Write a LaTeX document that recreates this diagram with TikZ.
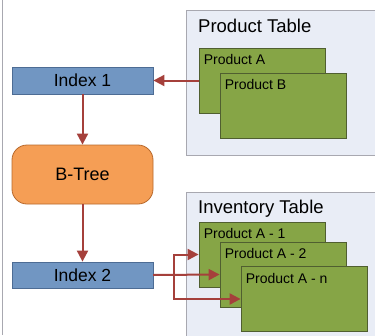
\documentclass[tikz,border=0pt]{standalone}
\usepackage{fontspec}
\setmainfont{Liberation Sans}
\usetikzlibrary{arrows.meta,calc}
\definecolor{idxblue}{HTML}{7196C2}
\definecolor{idxborder}{HTML}{4D6C94}
\definecolor{treeorange}{HTML}{F59E55}
\definecolor{treeborder}{HTML}{B8692C}
\definecolor{recgreen}{HTML}{86A546}
\definecolor{recborder}{HTML}{505F30}
\definecolor{tablefill}{HTML}{E9EDF6}
\definecolor{tableborder}{HTML}{A8A8B0}
\definecolor{arrowred}{HTML}{A5403B}
\begin{document}
\begin{tikzpicture}[x=1pt,y=-1pt,
  idxbox/.style={draw=idxborder,fill=idxblue,line width=0.8pt,minimum width=141pt,minimum height=27pt,inner sep=0pt,font=\fontsize{17.5}{20}\selectfont},
  treebox/.style={draw=treeborder,fill=treeorange,line width=0.8pt,rounded corners=15pt,minimum width=141pt,minimum height=59pt,inner sep=0pt,font=\fontsize{18}{20}\selectfont},
  recbox/.style={draw=recborder,fill=recgreen,line width=0.8pt,minimum width=126pt,minimum height=65pt,inner sep=0pt},
  tablebox/.style={draw=tableborder,fill=tablefill,line width=0.8pt},
  rectext/.style={anchor=base west,inner sep=0pt,font=\fontsize{14}{16}\selectfont},
  tabletext/.style={anchor=base west,inner sep=0pt,font=\fontsize{18.5}{20}\selectfont},
  link/.style={draw=arrowred,line width=2pt,-{Triangle[length=11pt,width=11pt]}}
]
\useasboundingbox (0,0) rectangle (375,335);
\fill[white] (0,0) rectangle (375,335);
\draw[tableborder,line width=0.8pt] (2,0) -- (2,335);
% tables
\draw[tablebox] (186,10) rectangle (380,155);
\draw[tablebox] (186,192) rectangle (380,340);
\node[tabletext] (pt) at (198,32) {Product Table};
\node[tabletext] (it) at (198,213) {Inventory Table};
% records
\node[recbox] (pa) at (262,80.5) {};
\node[rectext] (pat) at ($(pa.north west)+(5,17)$) {Product A};
\node[recbox] (pb) at (283,105.5) {};
\node[rectext] (pbt) at ($(pb.north west)+(5,17)$) {Product B};
\node[recbox] (a1) at (262,254.5) {};
\node[rectext] (a1t) at ($(a1.north west)+(5,17)$) {Product A - 1};
\node[recbox] (a2) at (283,274.5) {};
\node[rectext] (a2t) at ($(a2.north west)+(5,17)$) {Product A - 2};
\node[recbox] (an) at (304,299) {};
\node[rectext] (ant) at ($(an.north west)+(5,17)$) {Product A - n};
% left column
\node[idxbox] (i1) at (82.5,80.5) {Index 1};
\node[treebox] (bt) at (82.5,174.5) {B-Tree};
\node[idxbox,minimum height=26pt] (i2) at (82.5,275) {Index 2};
% connectors
\draw[link] (pa.west) -- (i1.east);
\draw[link] (i1.south) -- (bt.north);
\draw[link] (bt.south) -- (i2.north);
\coordinate (j) at (174,275);
\draw[link] (i2.east) -- (j) |- (a1.west);
\draw[link] (i2.east) -- (a2.west);
\draw[link] (i2.east) -- (j) |- (an.west);
\end{tikzpicture}
\end{document}
